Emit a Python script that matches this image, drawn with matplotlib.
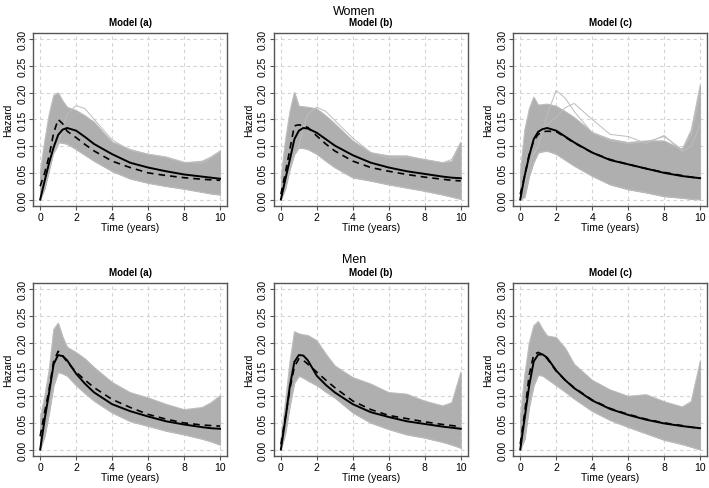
import matplotlib.pyplot as plt
import numpy as np

# time points (years) at which values were read
time = [0, 0.25, 0.5, 0.75, 1, 1.25, 1.5, 2, 2.5, 3, 4, 5, 6, 7, 8, 9, 9.5, 10]

# Women
w_a_solid = [0, 0.035, 0.069, 0.098, 0.121, 0.131, 0.134, 0.129, 0.117, 0.104, 0.085, 0.069, 0.06, 0.053, 0.047, 0.043, 0.041, 0.039]
w_a_dash = [0.025, 0.05, 0.082, 0.125, 0.15, 0.142, 0.128, 0.116, 0.103, 0.091, 0.072, 0.06, 0.05, 0.045, 0.041, 0.038, 0.037, 0.036]
w_a_upper = [0.05, 0.11, 0.16, 0.195, 0.2, 0.185, 0.173, 0.167, 0.157, 0.145, 0.108, 0.094, 0.085, 0.079, 0.069, 0.072, 0.08, 0.091]
w_a_lower = [0, 0.02, 0.055, 0.09, 0.107, 0.106, 0.104, 0.094, 0.083, 0.072, 0.053, 0.039, 0.031, 0.025, 0.02, 0.014, 0.011, 0.009]
w_a_outliers = [
    [0.0, 0.03, 0.06, 0.085, 0.1, 0.135, 0.16, 0.176, 0.17, 0.15, 0.112, 0.092, 0.085, 0.08, 0.07, 0.068, 0.078, 0.09],
]

w_b_solid = [0, 0.038, 0.075, 0.113, 0.129, 0.134, 0.133, 0.125, 0.113, 0.101, 0.083, 0.069, 0.06, 0.053, 0.048, 0.043, 0.041, 0.04]
w_b_dash = [0.01, 0.05, 0.094, 0.138, 0.14, 0.138, 0.135, 0.119, 0.104, 0.091, 0.072, 0.06, 0.053, 0.047, 0.042, 0.038, 0.036, 0.035]
w_b_upper = [0.04, 0.11, 0.165, 0.201, 0.175, 0.174, 0.173, 0.17, 0.157, 0.142, 0.11, 0.088, 0.082, 0.082, 0.075, 0.069, 0.072, 0.107]
w_b_lower = [0, 0.02, 0.057, 0.085, 0.097, 0.096, 0.094, 0.085, 0.072, 0.06, 0.041, 0.035, 0.028, 0.022, 0.016, 0.009, 0.005, 0.001]
w_b_outliers = [
    [0.0, 0.03, 0.06, 0.085, 0.1, 0.135, 0.16, 0.173, 0.165, 0.148, 0.115, 0.088, 0.078, 0.08, 0.075, 0.069, 0.075, 0.107],
]

w_c_solid = [0, 0.045, 0.082, 0.113, 0.127, 0.132, 0.134, 0.129, 0.118, 0.107, 0.088, 0.074, 0.066, 0.058, 0.05, 0.044, 0.042, 0.04]
w_c_dash = [0.01, 0.045, 0.085, 0.11, 0.122, 0.127, 0.128, 0.127, 0.117, 0.106, 0.088, 0.075, 0.066, 0.058, 0.051, 0.045, 0.042, 0.04]
w_c_upper = [0.05, 0.13, 0.17, 0.192, 0.177, 0.178, 0.179, 0.175, 0.165, 0.154, 0.126, 0.113, 0.107, 0.11, 0.11, 0.094, 0.13, 0.214]
w_c_lower = [0, 0.005, 0.044, 0.07, 0.088, 0.09, 0.091, 0.085, 0.074, 0.063, 0.044, 0.028, 0.019, 0.013, 0.006, 0.003, 0.001, 0]
w_c_outliers = [
    [0.0, 0.03, 0.06, 0.085, 0.1, 0.13, 0.16, 0.204, 0.19, 0.165, 0.125, 0.11, 0.105, 0.108, 0.118, 0.094, 0.12, 0.2],
    [0.0, 0.04, 0.08, 0.11, 0.12, 0.13, 0.14, 0.155, 0.172, 0.18, 0.15, 0.122, 0.118, 0.105, 0.12, 0.09, 0.1, 0.14],
]

# Men
m_a_solid = [0, 0.057, 0.107, 0.16, 0.177, 0.175, 0.167, 0.142, 0.123, 0.107, 0.085, 0.072, 0.062, 0.053, 0.047, 0.042, 0.04, 0.039]
m_a_dash = [0.025, 0.07, 0.113, 0.165, 0.184, 0.176, 0.164, 0.145, 0.13, 0.116, 0.094, 0.079, 0.066, 0.057, 0.05, 0.046, 0.045, 0.044]
m_a_upper = [0.06, 0.1, 0.15, 0.225, 0.237, 0.211, 0.192, 0.182, 0.17, 0.154, 0.126, 0.107, 0.097, 0.085, 0.075, 0.079, 0.088, 0.101]
m_a_lower = [0, 0.025, 0.069, 0.12, 0.145, 0.142, 0.138, 0.12, 0.105, 0.091, 0.069, 0.053, 0.044, 0.035, 0.028, 0.02, 0.015, 0.009]
m_a_outliers = []

m_b_solid = [0, 0.057, 0.119, 0.164, 0.177, 0.176, 0.167, 0.138, 0.121, 0.107, 0.085, 0.07, 0.061, 0.053, 0.048, 0.043, 0.041, 0.039]
m_b_dash = [0.01, 0.06, 0.113, 0.155, 0.17, 0.167, 0.16, 0.145, 0.13, 0.116, 0.091, 0.075, 0.064, 0.058, 0.052, 0.047, 0.045, 0.043]
m_b_upper = [0.019, 0.09, 0.164, 0.221, 0.217, 0.215, 0.214, 0.204, 0.179, 0.157, 0.135, 0.123, 0.107, 0.104, 0.091, 0.082, 0.088, 0.145]
m_b_lower = [0, 0.03, 0.082, 0.125, 0.138, 0.134, 0.129, 0.12, 0.108, 0.097, 0.069, 0.05, 0.038, 0.028, 0.022, 0.014, 0.009, 0.003]
m_b_outliers = []

m_c_solid = [0, 0.06, 0.12, 0.165, 0.178, 0.178, 0.172, 0.148, 0.13, 0.115, 0.092, 0.076, 0.065, 0.056, 0.049, 0.044, 0.042, 0.04]
m_c_dash = [0.01, 0.07, 0.14, 0.178, 0.182, 0.178, 0.17, 0.147, 0.13, 0.116, 0.093, 0.077, 0.066, 0.057, 0.05, 0.045, 0.042, 0.04]
m_c_upper = [0.06, 0.14, 0.2, 0.232, 0.24, 0.225, 0.213, 0.21, 0.19, 0.16, 0.13, 0.112, 0.1, 0.103, 0.09, 0.08, 0.09, 0.165]
m_c_lower = [0, 0.02, 0.08, 0.12, 0.14, 0.138, 0.132, 0.12, 0.108, 0.095, 0.072, 0.055, 0.042, 0.03, 0.018, 0.01, 0.005, 0]
m_c_outliers = []

panels = [
    ("Model (a)", w_a_solid, w_a_dash, w_a_upper, w_a_lower, w_a_outliers),
    ("Model (b)", w_b_solid, w_b_dash, w_b_upper, w_b_lower, w_b_outliers),
    ("Model (c)", w_c_solid, w_c_dash, w_c_upper, w_c_lower, w_c_outliers),
    ("Model (a)", m_a_solid, m_a_dash, m_a_upper, m_a_lower, m_a_outliers),
    ("Model (b)", m_b_solid, m_b_dash, m_b_upper, m_b_lower, m_b_outliers),
    ("Model (c)", m_c_solid, m_c_dash, m_c_upper, m_c_lower, m_c_outliers),
]

plt.rcParams['font.family'] = ['Liberation Sans', 'DejaVu Sans']

fig = plt.figure(figsize=(7.09, 4.89), dpi=100)

lefts = [0.0465, 0.386, 0.7236]
bottoms = [0.5767, 0.0654]
gray = '#afafaf'

for i, (title, solid, dash, upper, lower, outliers) in enumerate(panels):
    row, col = divmod(i, 3)
    ax = fig.add_axes([lefts[col], bottoms[row], 0.274, 0.354])

    # bundle of simulated curves shown as its envelope
    ax.fill_between(time, lower, upper, color=gray, lw=0.6, zorder=2)
    ax.plot(time, upper, color='#bdbdbd', lw=0.6, zorder=2)
    ax.plot(time, lower, color='#bdbdbd', lw=0.6, zorder=2)
    for o in outliers:
        ax.plot(time, o, color='#bdbdbd', lw=0.7, zorder=2)

    ax.plot(time, dash, color='black', lw=1.2, dashes=(4, 3), zorder=3)
    ax.plot(time, solid, color='black', lw=1.4, zorder=4)

    ax.set_xlim(-0.4, 10.4)
    ax.set_ylim(-0.012, 0.312)
    ax.set_xticks([0, 2, 4, 6, 8, 10])
    ax.set_yticks([0, 0.05, 0.10, 0.15, 0.20, 0.25, 0.30])
    ax.set_yticklabels(['0.00', '0.05', '0.10', '0.15', '0.20', '0.25', '0.30'],
                       rotation=90, va='center')
    ax.grid(True, color='#d3d3d3', linestyle=(0, (3, 3)), lw=0.8, zorder=0)
    ax.set_axisbelow(True)
    for s in ax.spines.values():
        s.set_color('#555555')
        s.set_linewidth(1.0)
    ax.tick_params(labelsize=7.5, length=3, width=0.8, color='#555555', pad=1)

    ax.set_title(title, fontsize=7, fontweight='bold', pad=6)
    ax.set_xlabel('Time (years)', fontsize=7.5, labelpad=0.5)
    ax.set_ylabel('Hazard', fontsize=7.5, labelpad=3)

fig.text(0.5, 0.975, 'Women', ha='center', va='center', fontsize=9)
fig.text(0.5, 0.468, 'Men', ha='center', va='center', fontsize=9)

plt.savefig('out.png', dpi=100)
